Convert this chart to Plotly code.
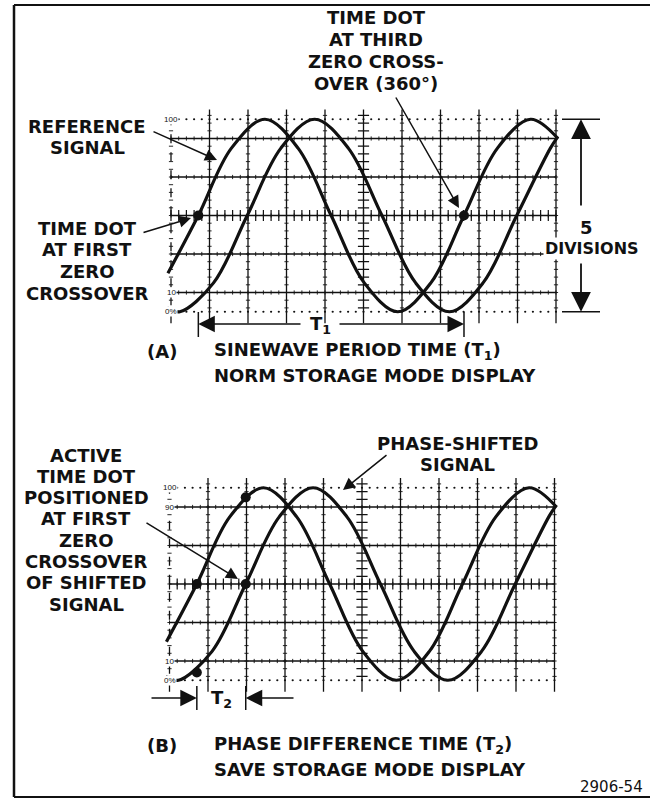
import numpy as np
import plotly.graph_objects as go

W, H = 650, 803

# ---------------- data ----------------
# x in graticule divisions (0..10), y in percent (0% / 100% lines = +/-2.5 div)
ref_x = [-0.08, 0.71, 1.57, 2.44, 3.30, 4.16, 5.02, 5.89, 6.75, 7.61, 8.48, 9.34, 10.05]
ref_y = [20, 50, 85, 100, 85, 50, 15, 0, 15, 50, 85, 100, 90]
shift_x = [-0.10, 0.23, 1.105, 1.98, 2.855, 3.73, 4.605, 5.48, 6.355, 7.23, 8.105, 8.98, 9.855, 10.05]
shift_y = [2, 0, 15, 50, 85, 100, 85, 50, 15, 0, 15, 50, 85, 91]

dotsA_x = [0.71, 7.61]
dotsA_y = [50, 50]
dotsB_x = [0.71, 0.71, 1.98, 1.98]
dotsB_y = [50, 4, 50, 95]

solid_levels = [10, 30, 50, 70, 90]
dotted_levels = [0, 100]
labelsA_txt = ["100", "10", "0%"]
labelsA_val = [100, 10, 0]
labelsB_txt = ["100", "90", "10", "0%"]
labelsB_val = [100, 90, 10, 0]

# ---------------- layout helpers ----------------
INK = "#111111"
FONT = "DejaVu Sans"
XR = [-0.6, 10.6]
YR = [-12, 112]
S = 38.5          # px per division
SY = S / 20.0     # px per percent


def xdom(px0):
    return [(px0 + XR[0] * S) / W, (px0 + XR[1] * S) / W]


def ydom(py50):
    top = py50 - (YR[1] - 50) * SY
    bot = py50 - (YR[0] - 50) * SY
    return [1 - bot / H, 1 - top / H]


def P(px, py):
    return px / W, 1 - py / H


fig = go.Figure()
shapes = []
annos = []


def graticule(xa, ya, lab_txt, lab_val):
    for i in range(11):
        shapes.append(dict(type="line", xref=xa, yref=ya, x0=i, x1=i, y0=-6, y1=105,
                           line=dict(color=INK, width=1.3, dash="dash" if i == 0 else "solid")))
    for lv in solid_levels:
        shapes.append(dict(type="line", xref=xa, yref=ya, x0=0, x1=10, y0=lv, y1=lv,
                           line=dict(color=INK, width=1.3)))
    xs = np.arange(0, 10.001, 0.2)
    for lv in dotted_levels:
        fig.add_trace(go.Scatter(x=xs, y=[lv] * len(xs), xaxis=xa, yaxis=ya, mode="markers",
                                 marker=dict(size=2.2, color=INK), hoverinfo="skip", showlegend=False))
    tx, ty = [], []
    for lv in solid_levels:
        tx += list(xs); ty += [lv] * len(xs)
    fig.add_trace(go.Scatter(x=tx, y=ty, xaxis=xa, yaxis=ya, mode="markers",
                             marker=dict(symbol="line-ns", size=3, line=dict(width=0.9, color=INK)),
                             hoverinfo="skip", showlegend=False))
    ys = np.arange(2, 104, 4)
    vx, vy = [], []
    for i in range(11):
        if i == 5:
            continue
        vx += [i] * len(ys); vy += list(ys)
    fig.add_trace(go.Scatter(x=vx, y=vy, xaxis=xa, yaxis=ya, mode="markers",
                             marker=dict(symbol="line-ew", size=3, line=dict(width=0.9, color=INK)),
                             hoverinfo="skip", showlegend=False))
    fig.add_trace(go.Scatter(x=xs, y=[50] * len(xs), xaxis=xa, yaxis=ya, mode="markers",
                             marker=dict(symbol="line-ns", size=8, line=dict(width=1.2, color=INK)),
                             hoverinfo="skip", showlegend=False))
    fig.add_trace(go.Scatter(x=[5] * len(ys), y=ys, xaxis=xa, yaxis=ya, mode="markers",
                             marker=dict(symbol="line-ew", size=8, line=dict(width=1.2, color=INK)),
                             hoverinfo="skip", showlegend=False))
    for t, v in zip(lab_txt, lab_val):
        annos.append(dict(xref=xa, yref=ya, x=0, y=v, text=t, showarrow=False,
                          font=dict(family="Liberation Sans", size=8, color=INK), bgcolor="white",
                          borderpad=0))


def signals(xa, ya):
    for xv, yv in ((ref_x, ref_y), (shift_x, shift_y)):
        fig.add_trace(go.Scatter(x=xv, y=yv, xaxis=xa, yaxis=ya, mode="lines",
                                 line=dict(color=INK, width=3.2, shape="spline", smoothing=1.0),
                                 hoverinfo="skip", showlegend=False))


# panel A
graticule("x", "y", labelsA_txt, labelsA_val)
signals("x", "y")
fig.add_trace(go.Scatter(x=dotsA_x, y=dotsA_y, xaxis="x", yaxis="y", mode="markers",
                         marker=dict(size=10, color=INK), hoverinfo="skip", showlegend=False))
# panel B
graticule("x2", "y2", labelsB_txt, labelsB_val)
signals("x2", "y2")
fig.add_trace(go.Scatter(x=dotsB_x, y=dotsB_y, xaxis="x2", yaxis="y2", mode="markers",
                         marker=dict(size=10, color=INK), hoverinfo="skip", showlegend=False))

A_X0, A_Y50 = 171, 215.5
B_X0, B_Y50 = 169.5, 584


def text(px, py, t, size=18, anchor="center", bold=True, bg=None):
    x, y = P(px, py)
    d = dict(xref="paper", yref="paper", x=x, y=y, text=t, showarrow=False, xanchor=anchor,
             yanchor="middle", font=dict(family=FONT, size=size, color=INK,
                                         weight="bold" if bold else "normal"))
    if bg:
        d["bgcolor"] = bg
    annos.append(d)


def arrow(tx, ty, sx, sy, head=2, size=1.6, width=1.5):
    x, y = P(tx, ty)
    annos.append(dict(xref="paper", yref="paper", x=x, y=y, ax=sx - tx, ay=sy - ty,
                      axref="pixel", ayref="pixel", text="", showarrow=True, arrowhead=head,
                      arrowsize=size, arrowwidth=width, arrowcolor=INK))


def hline(x0, x1, y, w=1.5):
    shapes.append(dict(type="line", xref="paper", yref="paper", x0=x0 / W, x1=x1 / W,
                       y0=1 - y / H, y1=1 - y / H, line=dict(color=INK, width=w)))


def vline(x, y0, y1, w=1.5):
    shapes.append(dict(type="line", xref="paper", yref="paper", x0=x / W, x1=x / W,
                       y0=1 - y0 / H, y1=1 - y1 / H, line=dict(color=INK, width=w)))


# ---- panel A texts ----
for i, t in enumerate(["TIME DOT", "AT THIRD", "ZERO CROSS-", "OVER (360°)"]):
    text(376, 18 + i * 21.7, t)
arrow(459, 208, 395, 96)
text(86, 127, "REFERENCE")
text(87, 147, "SIGNAL")
arrow(217, 160, 152, 131)
for i, t in enumerate(["TIME DOT", "AT FIRST", "ZERO", "CROSSOVER"]):
    text(87, 228 + i * 21.7, t)
arrow(191, 218, 142, 233)
# 5 divisions
hline(562, 600, A_Y50 - 50 * SY)
hline(562, 600, A_Y50 + 50 * SY)
arrow(581, A_Y50 - 50 * SY, 581, 207, size=2.2, width=1.8)
arrow(581, A_Y50 + 50 * SY, 581, 262, size=2.2, width=1.8)
text(586, 227, "5")
text(592, 248, "DIVISIONS", size=16, bg="white")
# T1
t1a = A_X0 + dotsA_x[0] * S
t1b = A_X0 + dotsA_x[1] * S
vline(t1a, 312, 337)
vline(t1b, 312, 337)
arrow(t1a, 324, 302, 324, size=2.2, width=1.5)
arrow(t1b, 324, 338, 324, size=2.2, width=1.5)
text(320, 325, "T<sub>1</sub>")
text(162, 351, "(A)")
text(212, 351, "SINEWAVE PERIOD TIME (T<sub>1</sub>)", anchor="left")
text(212, 375, "NORM STORAGE MODE DISPLAY", anchor="left")

# ---- panel B texts ----
for i, t in enumerate(["ACTIVE", "TIME DOT", "POSITIONED", "AT FIRST", "ZERO",
                       "CROSSOVER", "OF SHIFTED", "SIGNAL"]):
    text(86, 455 + i * 21.3, t)
arrow(238, 579, 145, 522)
text(457, 443, "PHASE-SHIFTED")
text(457, 464, "SIGNAL")
arrow(343, 490, 388, 454)
t2a = B_X0 + dotsB_x[0] * S
t2b = B_X0 + dotsB_x[2] * S
vline(t2a, 686, 710)
vline(t2b, 686, 710)
arrow(t2a, 698, 150, 698, size=2.2, width=1.5)
arrow(t2b, 698, 295, 698, size=2.2, width=1.5)
text(221, 699, "T<sub>2</sub>")
text(162, 745, "(B)")
text(212, 745, "PHASE DIFFERENCE TIME (T<sub>2</sub>)", anchor="left")
text(212, 769, "SAVE STORAGE MODE DISPLAY", anchor="left")
text(645, 787, "2906-54", size=15, anchor="right", bold=False)

# frame
vline(14, 5, 797, w=2.5)
hline(14, 650, 5, w=2)
hline(14, 650, 797, w=2)

fig.update_layout(
    width=W, height=H, margin=dict(l=0, r=0, t=0, b=0),
    paper_bgcolor="white", plot_bgcolor="rgba(0,0,0,0)", showlegend=False,
    xaxis=dict(domain=xdom(A_X0), range=XR, visible=False, fixedrange=True),
    yaxis=dict(domain=ydom(A_Y50), range=YR, visible=False, fixedrange=True),
    xaxis2=dict(domain=xdom(B_X0), range=XR, visible=False, fixedrange=True, anchor="y2"),
    yaxis2=dict(domain=ydom(B_Y50), range=YR, visible=False, fixedrange=True, anchor="x2"),
    shapes=shapes, annotations=annos,
)
fig.write_html("out.html", config={"displayModeBar": False},
               post_script="document.body.style.margin='0';document.body.style.padding='0';")
